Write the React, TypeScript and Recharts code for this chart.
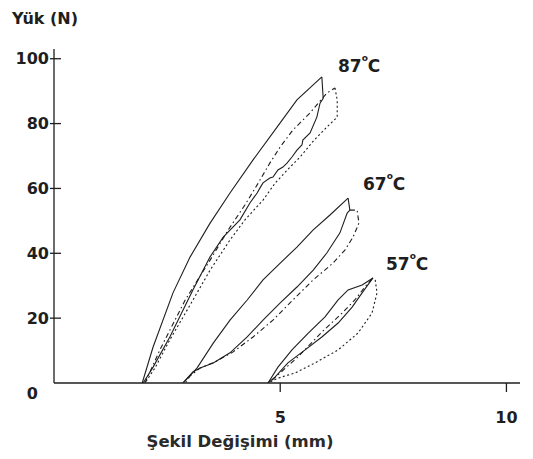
import React from 'react';
import { LineChart, Line, XAxis, YAxis } from 'recharts';

// deformation (mm), load (N)
const load87 = [[1.95, 0], [2.19, 11.1], [2.63, 27.8], [3.01, 38.9], [3.45, 49.3], [3.89, 58.6], [4.4, 68.8], [4.93, 78.9], [5.37, 87.3], [5.92, 94.4]];
const unload87 = [[5.92, 94.4], [5.95, 87.8], [5.88, 86.3], [5.81, 82.0], [5.66, 77.1], [5.5, 74.9], [5.48, 73.4], [5.37, 71.8], [5.26, 69.7], [5.15, 67.8], [5.06, 66.6], [4.95, 65.7], [4.84, 63.5], [4.77, 63.2], [4.62, 61.7], [4.55, 60.1], [4.49, 58.6], [4.33, 55.5], [4.11, 50.3], [3.74, 45.0], [3.45, 38.9], [3.07, 28.7], [2.56, 14.2], [2.19, 4.9], [1.97, 0]];
const cycle2Load87 = [[2.01, 0], [2.34, 10.2], [2.9, 25.6], [3.45, 37.9], [3.85, 47.2], [4.22, 54.9], [4.49, 61.1], [4.77, 67.8], [5.0, 72.8], [5.28, 78.0], [5.66, 83.3], [6.03, 89.4], [6.21, 91.0]];
const cycle2Unload87 = [[6.21, 91.0], [6.26, 87.3], [6.26, 82.0], [6.03, 78.9], [5.73, 74.6], [5.44, 69.7], [5.22, 66.6], [4.89, 61.7], [4.62, 56.4], [4.22, 50.3], [3.89, 44.1], [3.45, 34.8], [3.01, 24.1], [2.56, 13.3], [2.23, 4.6], [2.01, 0]];

const load67 = [[2.85, 0], [3.16, 4.6], [3.52, 12.3], [3.89, 19.4], [4.27, 25.6], [4.62, 31.8], [5.0, 37.0], [5.37, 41.9], [5.73, 47.2], [6.1, 51.8], [6.5, 57.0]];
const unload67 = [[6.5, 57.0], [6.54, 53.3], [6.48, 52.4], [6.32, 46.3], [6.03, 40.1], [5.73, 34.8], [5.37, 29.6], [5.0, 24.7], [4.62, 19.4], [4.27, 14.2], [3.89, 9.3], [3.52, 6.2], [3.23, 4.6], [3.07, 3.4], [2.85, 0]];
const cycle2Unload67 = [[6.54, 53.3], [6.7, 53.3], [6.74, 49.3], [6.61, 45.0], [6.43, 41.0], [6.17, 37.0], [5.73, 31.8], [5.28, 25.6], [4.84, 19.4], [4.4, 14.2], [3.96, 9.6], [3.56, 6.5], [3.23, 4.6], [3.01, 2.2], [2.9, 0]];

const load57 = [[4.73, 0], [4.95, 4.9], [5.26, 10.2], [5.62, 15.4], [5.99, 20.4], [6.28, 25.6], [6.5, 28.7], [6.81, 30.2], [7.05, 32.4]];
const unload57 = [[7.05, 32.4], [6.81, 27.8], [6.59, 23.4], [6.28, 18.5], [5.92, 14.2], [5.55, 10.2], [5.17, 6.2], [4.89, 1.9], [4.73, 0]];
const cycle2Load57 = [[4.82, 0.9], [5.39, 8.0], [5.92, 15.7], [6.37, 21.6], [6.65, 25.6], [6.87, 29.6], [7.05, 32.4]];
const cycle2Unload57 = [[7.1, 31.8], [7.14, 27.8], [7.03, 21.6], [6.72, 15.4], [6.28, 10.2], [5.77, 6.2], [5.33, 3.1], [4.95, 1.5], [4.73, 0]];

const X_TICKS = [5, 10];
const Y_TICKS = [0, 20, 40, 60, 80, 100];

const FONT = '"DejaVu Sans", sans-serif';
const INK = '#1e1e1e';

const pts = (arr: number[][]) => arr.map(([x, y]) => ({ x, y }));

const series = [
  { key: 'l87', data: load87, dash: undefined },
  { key: 'u87', data: unload87, dash: undefined },
  { key: 'c2l87', data: cycle2Load87, dash: '5 3 1.5 3' },
  { key: 'c2u87', data: cycle2Unload87, dash: '2 2.5' },
  { key: 'l67', data: load67, dash: undefined },
  { key: 'u67', data: unload67, dash: undefined },
  { key: 'c2u67', data: cycle2Unload67, dash: '5 3 1.5 3' },
  { key: 'l57', data: load57, dash: undefined },
  { key: 'u57', data: unload57, dash: undefined },
  { key: 'c2l57', data: cycle2Load57, dash: '5 3 1.5 3' },
  { key: 'c2u57', data: cycle2Unload57, dash: '2 2.5' },
];

function YTick(props: any) {
  const { x, y, payload } = props;
  const style = { fontFamily: FONT, fontSize: 16, fontWeight: 'bold' as const, fill: INK };
  if (payload.value === 0) {
    return <text x={x - 16} y={y + 16} textAnchor="end" style={style}>0</text>;
  }
  return (
    <g>
      <line x1={x - 4} x2={x + 7} y1={y} y2={y} stroke={INK} strokeWidth={1.3} />
      <text x={x - 5} y={y} dy="0.36em" textAnchor="end" style={style}>{payload.value}</text>
    </g>
  );
}

function XTick(props: any) {
  const { x, y, payload } = props;
  return (
    <g>
      <line x1={x} x2={x} y1={y} y2={y + 9} stroke={INK} strokeWidth={1.3} />
      <text x={x} y={y + 40} textAnchor="middle" style={{ fontFamily: FONT, fontSize: 16, fontWeight: 'bold', fill: INK }}>
        {payload.value}
      </text>
    </g>
  );
}

function Temp({ x, y, t }: { x: number; y: number; t: string }) {
  return (
    <text x={x} y={y} style={{ fontFamily: FONT, fontSize: 17, fontWeight: 'bold', fill: INK }}>
      {t}
      <tspan dy={-11} fontSize={9}>o</tspan>
      <tspan dy={11}>C</tspan>
    </text>
  );
}

export default function App() {
  return (
    <div style={{ position: 'absolute', left: 0, top: 0, width: 533, height: 459, background: '#fff' }}>
      <LineChart width={533} height={459} margin={{ top: 49, right: 13, bottom: 0, left: 0 }}>
        <XAxis
          dataKey="x"
          type="number"
          domain={[0, 10.3]}
          ticks={X_TICKS}
          height={76}
          tickSize={0}
          tickMargin={0}
          tickLine={false}
          axisLine={{ stroke: INK, strokeWidth: 1.3 }}
          tick={<XTick />}
          allowDataOverflow
        />
        <YAxis
          dataKey="y"
          type="number"
          domain={[0, 103]}
          ticks={Y_TICKS}
          width={54}
          tickSize={0}
          tickMargin={0}
          tickLine={false}
          axisLine={{ stroke: INK, strokeWidth: 1.3 }}
          tick={<YTick />}
          allowDataOverflow
        />
        {series.map((s) => (
          <Line
            key={s.key}
            data={pts(s.data)}
            dataKey="y"
            type="linear"
            stroke={INK}
            strokeWidth={1.1}
            strokeDasharray={s.dash}
            dot={false}
            activeDot={false}
            isAnimationActive={false}
          />
        ))}
      </LineChart>
      <svg width={533} height={459} style={{ position: 'absolute', left: 0, top: 0, pointerEvents: 'none' }}>
        <text x={12} y={24} style={{ fontFamily: FONT, fontSize: 16, fontWeight: 'bold', fill: INK }}>Yük (N)</text>
        <text x={240} y={447} textAnchor="middle" style={{ fontFamily: FONT, fontSize: 16.5, fontWeight: 'bold', fill: '#2a2a2a' }}>
          Şekil Değişimi (mm)
        </text>
        <Temp x={338} y={72} t="87" />
        <Temp x={363} y={190} t="67" />
        <Temp x={386} y={270} t="57" />
      </svg>
    </div>
  );
}
